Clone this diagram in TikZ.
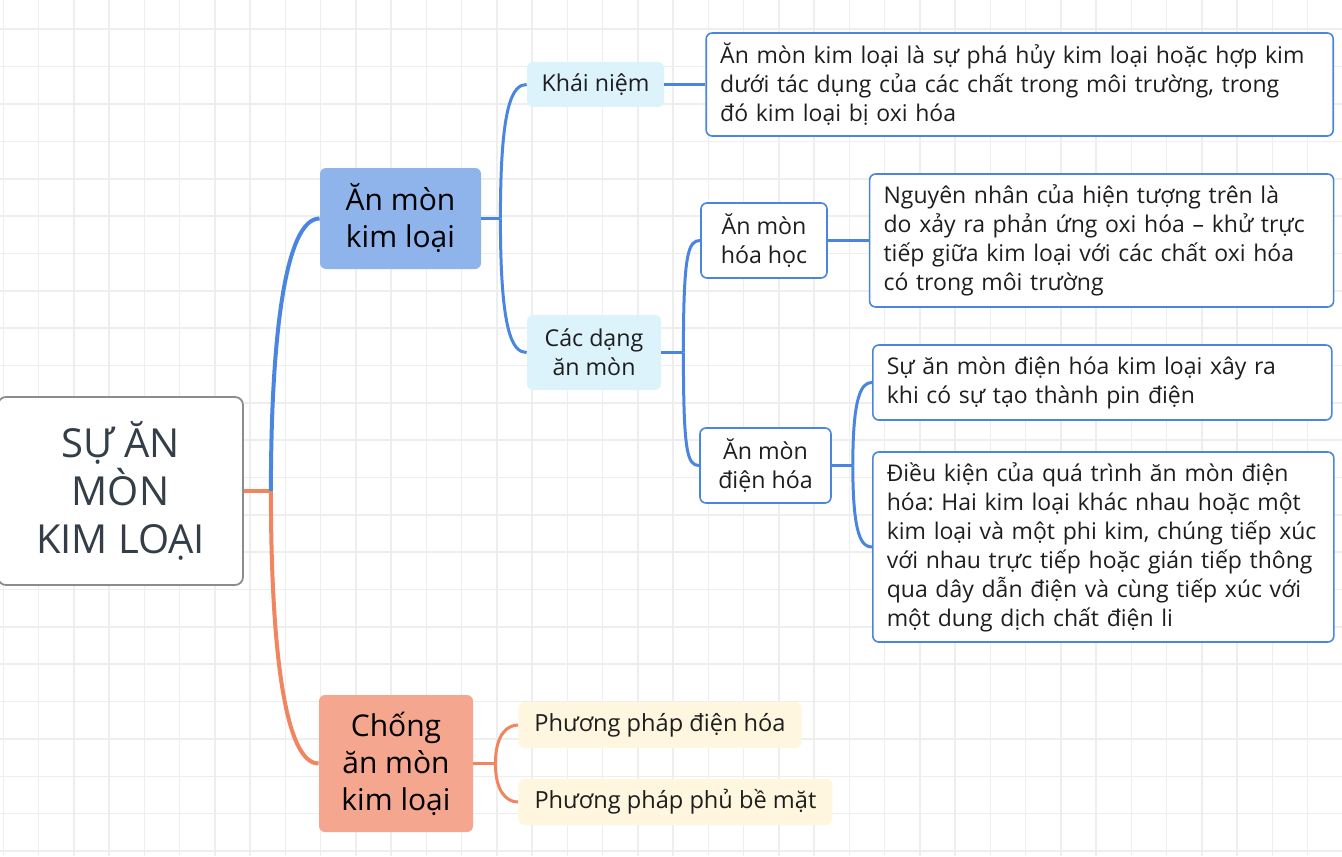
\documentclass[tikz,border=0pt]{standalone}
\usepackage{fontspec}
\setmainfont{Open Sans}
\usetikzlibrary{positioning}
\frenchspacing

\definecolor{branchblue}{RGB}{74,134,224}
\definecolor{branchorange}{RGB}{240,133,95}
\definecolor{topicblue}{RGB}{143,180,236}
\definecolor{topicsalmon}{RGB}{245,166,142}
\definecolor{subblue}{RGB}{221,243,252}
\definecolor{leafcream}{RGB}{254,246,222}
\definecolor{rootgray}{RGB}{140,140,140}
\definecolor{roottext}{RGB}{51,62,72}
\definecolor{textdark}{RGB}{30,30,30}
\definecolor{gridgray}{RGB}{238,238,238}

\begin{document}
\begin{tikzpicture}[
    x=0.5pt, y=-0.5pt,
    root/.style={draw=rootgray,line width=0.9pt,fill=white,rounded corners=4pt,align=center,
        text=roottext,font=\fontsize{20}{24}\selectfont,minimum width=122.5pt,minimum height=94pt},
    topic/.style={rounded corners=3pt,align=center,text=black,font=\fontsize{15}{18.5}\selectfont},
    sub/.style={fill=subblue,rounded corners=3pt,align=center,text=textdark,font=\fontsize{11.6}{14.5}\selectfont},
    inner/.style={draw=branchblue,line width=0.8pt,fill=white,rounded corners=3pt,align=center,
        text=textdark,font=\fontsize{11.6}{14.5}\selectfont,minimum height=37.5pt},
    note/.style={draw=branchblue,line width=0.8pt,fill=white,rounded corners=3pt,align=left,
        inner xsep=7pt,text=textdark,font=\fontsize{11.5}{14.5}\selectfont},
    leaf/.style={fill=leafcream,rounded corners=3pt,anchor=west,inner xsep=8pt,minimum height=23pt,
        text=textdark,font=\fontsize{11.8}{14.5}\selectfont},
    bline/.style={draw=branchblue,line width=1.5pt},
    oline/.style={draw=branchorange,line width=1.5pt}
]

\useasboundingbox (0,0) rectangle (1342,856);
\clip (0,0) rectangle (1342,856);
\fill[white] (0,0) rectangle (1342,856);

% Background grid
\foreach \gx in {0,...,38}
    \draw[gridgray,line width=0.8pt] (3.3+35.25*\gx,0) -- ++(0,856);
\foreach \gy in {0,...,22}
    \draw[gridgray,line width=0.8pt] (0,29.3+37.35*\gy) -- ++(1342,0);

% Central topic
\node[root] (root) at (120.5,491) {SỰ ĂN\\MÒN\\KIM LOẠI};

% Main topics
\node[topic,fill=topicblue,minimum width=80.5pt,minimum height=50.5pt] (ank) at (400.5,218.5) {Ăn mòn\\kim loại};
\node[topic,fill=topicsalmon,minimum width=77pt,minimum height=68.5pt] (chong) at (396,763.5) {Chống\\ăn mòn\\kim loại};

% Subtopics
\node[sub,minimum width=68.5pt,minimum height=22.5pt] (khai) at (595.5,84.5) {Khái niệm};
\node[sub,minimum width=67pt,minimum height=37.5pt] (dang) at (594,352.5) {Các dạng\\ăn mòn};
\node[inner,minimum width=63pt] (hoa) at (764,240.5) {Ăn mòn\\hóa học};
\node[inner,minimum width=65.5pt] (dien) at (765.5,465.5) {Ăn mòn\\điện hóa};

% Notes
\node[note,right=20.5pt of khai,text width=299.5pt,minimum height=51.5pt] (n1)
    {Ăn mòn kim loại là sự phá hủy kim loại hoặc hợp kim\\dưới tác dụng của các chất trong môi trường, trong\\đó kim loại bị oxi hóa};
\node[note,right=20.5pt of hoa,text width=218pt,minimum height=66.5pt] (n2)
    {Nguyên nhân của hiện tượng trên là\\do xảy ra phản ứng oxi hóa – khử trực\\tiếp giữa kim loại với các chất oxi hóa\\có trong môi trường};
\node[note,anchor=west,text width=215.5pt,minimum height=37.5pt] (n3) at (872,382.5)
    {Sự ăn mòn điện hóa kim loại xây ra\\khi có sự tạo thành pin điện};
\node[note,anchor=west,text width=216.5pt,minimum height=95pt] (n4) at (872,547)
    {Điều kiện của quá trình ăn mòn điện\\hóa: Hai kim loại khác nhau hoặc một\\kim loại và một phi kim, chúng tiếp xúc\\với nhau trực tiếp hoặc gián tiếp thông\\qua dây dẫn điện và cùng tiếp xúc với\\một dung dịch chất điện li};

% Leaves
\node[leaf,minimum width=141.5pt] (pp1) at (518,725) {Phương pháp điện hóa};
\node[leaf,minimum width=157pt] (pp2) at (518,802) {Phương pháp phủ bề mặt};

% Junctions
\coordinate (j0) at ([xshift=13.5pt]root.east);
\coordinate (j1) at ([xshift=9.5pt]ank.east);
\coordinate (j2) at ([xshift=11pt]dang.east);
\coordinate (j3) at ([xshift=10.5pt]dien.east);
\coordinate (j4) at ([xshift=11pt]chong.east);

% Branches from the centre
\draw[oline,line width=2pt] (root.east) -- (j0);
\draw[bline,line width=2pt] (j0) .. controls +(0,-150) and +(-35,0) .. (ank.west);
\draw[oline,line width=2pt] (j0) .. controls +(0,150) and +(-35,0) .. (chong.west);

% Ăn mòn kim loại
\draw[bline] (ank.east) -- (j1);
\draw[bline] (j1) .. controls +(0,-115) and +(-14,0) .. (khai.west);
\draw[bline] (j1) .. controls +(0,115) and +(-14,0) .. (dang.west);
\draw[bline] (khai.east) -- (n1.west);

% Các dạng ăn mòn
\draw[bline] (dang.east) -- (j2);
\draw[bline] (j2) .. controls +(0,-100) and +(-12,0) .. (hoa.west);
\draw[bline] (j2) .. controls +(0,100) and +(-12,0) .. (dien.west);
\draw[bline] (hoa.east) -- (n2.west);

% Ăn mòn điện hóa
\draw[bline] (dien.east) -- (j3);
\draw[bline] (j3) .. controls +(0,-72) and +(-10,0) .. (n3.west);
\draw[bline] (j3) .. controls +(0,72) and +(-10,0) .. (n4.west);

% Chống ăn mòn kim loại
\draw[oline] (chong.east) -- (j4);
\draw[oline] (j4) .. controls +(0,-30) and +(-10,0) .. (pp1.west);
\draw[oline] (j4) .. controls +(0,30) and +(-10,0) .. (pp2.west);

\end{tikzpicture}
\end{document}
